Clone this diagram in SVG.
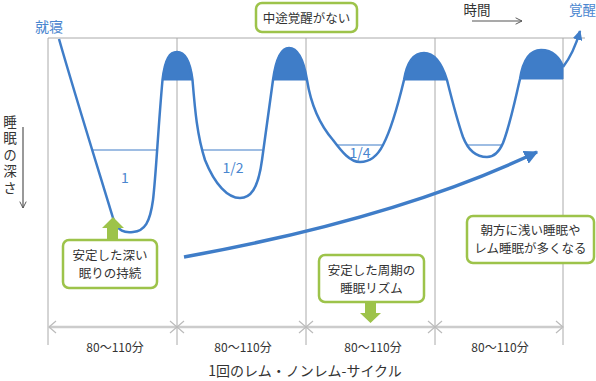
<svg xmlns="http://www.w3.org/2000/svg" width="596" height="381" viewBox="0 0 596 381">
<defs>
<style>
.t{font-family:"Noto Sans CJK JP","Noto Sans",sans-serif;fill:#333}
.s12{font-size:12.5px}
.s14{font-size:14px}
.s11{font-size:12px}
.b{fill:#4a86cf}
.grid{stroke:#aaa;stroke-width:1;fill:none}
.curve{stroke:#3f7dc8;stroke-width:2.5;fill:none;stroke-linejoin:round}
.hump{fill:#3f7dc8;stroke:#3f7dc8;stroke-width:1}
.lvl{stroke:#3f7dc8;stroke-width:1.2}
.box{fill:#fff;stroke:#9dc34a;stroke-width:2.5}
.garrow{fill:#9dc34a}
.dim{stroke:#ccc;stroke-width:2.5;fill:none}
.chev{stroke:#bbb;stroke-width:1.2;fill:none}
</style>
<marker id="ah" viewBox="0 0 10 10" refX="9" refY="5" markerWidth="4" markerHeight="4" orient="auto" markerUnits="strokeWidth">
<path d="M0,0 L10,5 L0,10 z" fill="#3f7dc8"/>
</marker>
<marker id="oa" viewBox="0 0 10 10" refX="9" refY="5" markerWidth="8" markerHeight="8" orient="auto" markerUnits="userSpaceOnUse">
<path d="M1,1 L9,5 L1,9" fill="none" stroke="#555" stroke-width="1.2"/>
</marker>
</defs>
<rect width="596" height="381" fill="#fff"/>

<g id="grid">
<line class="grid" x1="48" y1="38" x2="585" y2="38"/>
<line class="grid" x1="48" y1="38" x2="48" y2="345"/>
<line class="grid" x1="177" y1="38" x2="177" y2="345"/>
<line class="grid" x1="306" y1="38" x2="306" y2="345"/>
<line class="grid" x1="435" y1="38" x2="435" y2="345"/>
<line class="grid" x1="563" y1="38" x2="563" y2="345"/>
</g>

<g id="sleep-curve">
<path class="hump" d="M162.5,80 C165,58 170,52 177,52 C185,52 190,60 192.5,80 Z"/>
<path class="hump" d="M273,80 C276,58 281,48 289,48 C298,48 304,62 307,80 Z"/>
<path class="hump" d="M404,80 C407,62 413,53 424,53 C435,53 442,64 447,80 Z"/>
<path class="hump" d="M520,79 C523,60 530,50 541,50 C553,50 560,58 563,67 L563,79 Z"/>
<path class="curve" d="M59,39 C75,95 100,175 113,218 C118,232 125,233 133,232 C145,231 150,222 153,200 C156,175 158,130 162.5,80 C165,58 170,52 177,52 C185,52 190,60 192.5,80 C195,110 197,135 205,160 C215,185 228,198 240,198 C250,198 258,190 262,160 C266,130 270,100 273,80 C276,58 281,48 289,48 C298,48 304,62 307,80 C311,105 320,125 333,140 C342,152 350,162 360,162 C370,162 378,155 383,145 C392,128 398,105 404,80 C407,62 413,53 424,53 C435,53 442,64 447,80 C452,100 457,120 463,137 C468,150 475,157 487,157 C495,157 500,150 503,143 C510,125 515,100 520,79 C523,60 530,50 541,50 C553,50 560,58 563,67"/>
<path class="curve" d="M563,67 C570,58 576,45 580,31" marker-end="url(#ah)"/>
<line class="lvl" x1="92" y1="150" x2="157" y2="150"/>
<line class="lvl" x1="203" y1="150" x2="262" y2="150"/>
<line class="lvl" x1="337" y1="145" x2="383" y2="145"/>
<line class="lvl" x1="466" y1="145" x2="502" y2="145"/>
<text class="t b s14" x="125" y="183" text-anchor="middle">1</text>
<text class="t b s14" x="233" y="173" text-anchor="middle">1/2</text>
<text class="t b s14" x="360" y="158" text-anchor="middle">1/4</text>
</g>

<g id="labels">
<text class="t b s14" x="35" y="32">就寝</text>
<text class="t b" style="font-size:13.5px" x="596" y="15" text-anchor="end">覚醒</text>
<text class="t" style="font-size:13.5px" x="477" y="15" text-anchor="middle">時間</text>
<line x1="472" y1="21" x2="522" y2="21" stroke="#555" stroke-width="1.2" marker-end="url(#oa)"/>
<text class="t" style="font-size:13.5px" x="10" y="115" writing-mode="vertical-rl" letter-spacing="3">睡眠の深さ</text>
<line x1="23" y1="127" x2="23" y2="208" stroke="#555" stroke-width="1.2" marker-end="url(#oa)"/>
</g>

<g id="connectors">
<path d="M184,257 C300,236 430,203 537,152" stroke="#3f7dc8" stroke-width="3.5" fill="none" marker-end="url(#ah)"/>
</g>

<g id="node-no-waking">
<rect class="box" x="256" y="3" width="101" height="29" rx="6"/>
<text class="t s12" x="306.5" y="22.5" text-anchor="middle">中途覚醒がない</text>
</g>

<g id="node-deep-sleep">
<path class="garrow" d="M113,217 L124,228 L118,228 L118,241 L107,241 L107,228 L102,228 Z"/>
<rect class="box" x="63" y="240" width="94" height="48" rx="6"/>
<text class="t s12" text-anchor="middle"><tspan x="110" y="259.5">安定した深い</tspan><tspan x="110" y="277.5">眠りの持続</tspan></text>
</g>

<g id="node-rhythm">
<path class="garrow" d="M365,301 L376,301 L376,313 L381,313 L370.5,323 L360,313 L365,313 Z"/>
<rect class="box" x="319" y="255" width="105" height="47" rx="6"/>
<text class="t s12" text-anchor="middle"><tspan x="371.5" y="275">安定した周期の</tspan><tspan x="371.5" y="293">睡眠リズム</tspan></text>
</g>

<g id="node-morning">
<rect class="box" x="467" y="216" width="127" height="47" rx="6"/>
<text class="t s12" text-anchor="middle"><tspan x="530.5" y="235">朝方に浅い睡眠や</tspan><tspan x="530.5" y="253">レム睡眠が多くなる</tspan></text>
</g>

<g id="dimension">
<line class="dim" x1="49" y1="327" x2="562" y2="327"/>
<path class="chev" d="M56,321 L49,327 L56,333 M170,321 L177,327 L170,333 M184,321 L177,327 L184,333 M299,321 L306,327 L299,333 M313,321 L306,327 L313,333 M428,321 L435,327 L428,333 M442,321 L435,327 L442,333 M556,321 L563,327 L556,333"/>
<text class="t s11" x="115" y="352" text-anchor="middle">80〜110分</text>
<text class="t s11" x="243" y="352" text-anchor="middle">80〜110分</text>
<text class="t s11" x="373" y="352" text-anchor="middle">80〜110分</text>
<text class="t s11" x="500" y="352" text-anchor="middle">80〜110分</text>
<text class="t" style="font-size:14px" x="305" y="376" text-anchor="middle">1回のレム・ノンレム-サイクル</text>
</g>
</svg>
